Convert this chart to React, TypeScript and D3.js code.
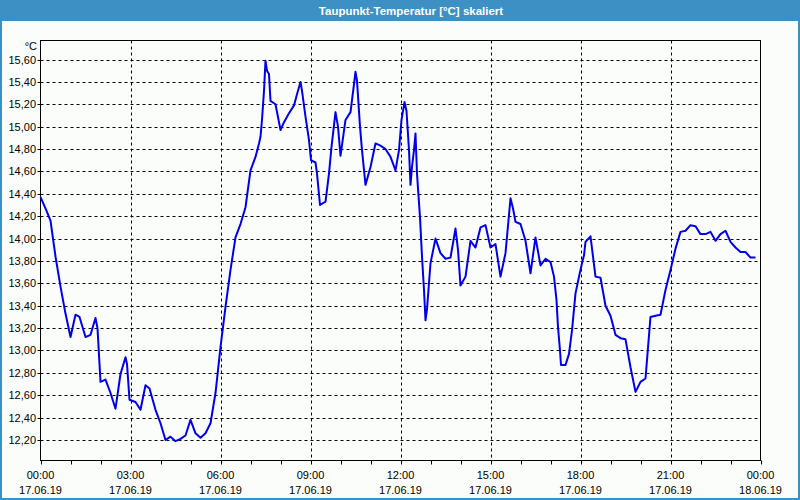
import React from "react";
import * as d3 from "d3";

const TITLE = "Taupunkt-Temperatur [°C] skaliert";
const UNIT = "°C";

// minutes since 17.06.19 00:00
const minutes = [
  0, 10, 20, 30, 40, 50, 60, 70, 78, 90, 100, 110, 114, 120, 130, 140, 150, 160, 170, 173, 178,
  190, 200, 210, 218, 230, 240, 250, 260, 270, 280, 290, 300, 310, 320, 330, 340, 350, 360, 370,
  380, 390, 400, 410, 420, 430, 437, 440, 443, 447, 450, 453, 457, 460, 470, 480, 487, 497, 507,
  513, 520, 523, 530, 537, 541, 550, 553, 559, 570, 577, 582, 590, 595, 600, 610, 620, 627, 630,
  633, 639, 643, 650, 660, 670, 680, 690, 700, 710, 717, 722, 728, 732, 737, 740, 743, 747, 750,
  753, 759, 763, 767, 770, 773, 780, 790, 800, 810, 820, 825, 830, 835, 840, 850, 860, 870, 880,
  890, 900, 910, 920, 930, 940, 945, 950, 960, 970, 980, 990, 1000, 1010, 1020, 1027, 1032, 1035,
  1039, 1041, 1050, 1057, 1063, 1070, 1077, 1083, 1087, 1090, 1100, 1110, 1120, 1130, 1140, 1150,
  1160, 1170, 1180, 1190, 1200, 1210, 1220, 1230, 1240, 1250, 1260, 1270, 1280, 1290, 1300, 1310,
  1320, 1330, 1340, 1350, 1360, 1370, 1380, 1390, 1400, 1410, 1420, 1430,
];
const dewpoint = [
  14.37, 14.27, 14.16, 13.84, 13.57, 13.33, 13.12, 13.32, 13.3, 13.12, 13.14, 13.29, 13.2, 12.72,
  12.74, 12.62, 12.48, 12.79, 12.94, 12.88, 12.56, 12.54, 12.47, 12.69, 12.66, 12.47, 12.35, 12.2,
  12.23, 12.19, 12.21, 12.24, 12.38, 12.26, 12.22, 12.26, 12.35, 12.62, 13.03, 13.39, 13.72, 14.01,
  14.13, 14.28, 14.61, 14.73, 14.85, 14.91, 15.06, 15.32, 15.59, 15.5, 15.47, 15.23, 15.2, 14.97,
  15.04, 15.12, 15.19, 15.29, 15.4, 15.32, 15.09, 14.88, 14.7, 14.68, 14.58, 14.3, 14.33, 14.58,
  14.82, 15.13, 15.0, 14.74, 15.06, 15.13, 15.38, 15.49, 15.41, 15.0, 14.79, 14.48, 14.64, 14.85,
  14.83, 14.8, 14.73, 14.61, 14.79, 15.06, 15.22, 15.14, 14.79, 14.48, 14.64, 14.79, 14.94, 14.58,
  14.19, 13.84, 13.54, 13.27, 13.37, 13.78, 14.0, 13.87, 13.82, 13.83, 13.96, 14.09, 13.9, 13.58,
  13.66, 13.98, 13.92, 14.1, 14.12, 13.92, 13.95, 13.66, 13.87, 14.36, 14.27, 14.15, 14.13, 13.98,
  13.69, 14.01, 13.76, 13.82, 13.79, 13.66, 13.45, 13.21, 13.0, 12.87, 12.87, 12.97, 13.18, 13.51,
  13.66, 13.78, 13.85, 13.97, 14.02, 13.66, 13.65, 13.4, 13.31, 13.14, 13.11, 13.1, 12.85, 12.63,
  12.72, 12.75, 13.3, 13.31, 13.32, 13.54, 13.72, 13.91, 14.06, 14.07, 14.12, 14.11, 14.04, 14.04,
  14.06, 13.98, 14.04, 14.07, 13.97, 13.92, 13.88, 13.88, 13.83, 13.83,
];

const yTicks = [12.2, 12.4, 12.6, 12.8, 13.0, 13.2, 13.4, 13.6, 13.8, 14.0, 14.2, 14.4, 14.6, 14.8, 15.0, 15.2, 15.4, 15.6];
const xMajor = [0, 180, 360, 540, 720, 900, 1080, 1260, 1440];
const xTimeLabels = ["00:00", "03:00", "06:00", "09:00", "12:00", "15:00", "18:00", "21:00", "00:00"];
const xDateLabels = ["17.06.19", "17.06.19", "17.06.19", "17.06.19", "17.06.19", "17.06.19", "17.06.19", "17.06.19", "18.06.19"];
const xMinor = d3.range(0, 1441, 60);

const W = 800;
const H = 500;
const L = 40.5;
const R = 760.5;
const T = 40.5;
const B = 460.5;

export default function App() {
  const x = d3.scaleLinear().domain([0, 1440]).range([L, R]);
  const y = d3.scaleLinear().domain([12.017, 15.77]).range([B, T]);
  const pts = minutes.map((m, i) => [m, dewpoint[i]] as [number, number]);
  const line = d3
    .line<[number, number]>()
    .x((d) => x(d[0]))
    .y((d) => y(d[1]));
  const font = "'Liberation Sans', Arial, sans-serif";
  const fmt = (v: number) => v.toFixed(2).replace(".", ",");

  return (
    <svg
      width={W}
      height={H}
      style={{ position: "absolute", left: 0, top: 0, display: "block" }}
      fontFamily={font}
    >
      <rect x={0} y={0} width={W} height={H} fill="#3c90c4" />
      <rect x={2} y={21} width={W - 4} height={H - 23} fill="#fbfdfb" />
      <text
        x={411}
        y={15}
        textAnchor="middle"
        fill="#ffffff"
        fontSize={11.5}
        fontWeight="bold"
        fontFamily={font}
      >
        {TITLE}
      </text>

      {/* horizontal grid */}
      {yTicks.map((v) => (
        <line
          key={"h" + v}
          x1={L}
          x2={R}
          y1={Math.round(y(v)) + 0.5}
          y2={Math.round(y(v)) + 0.5}
          stroke="#000"
          strokeDasharray="3,3"
          strokeWidth={1}
        />
      ))}
      {/* vertical grid */}
      {xMajor.slice(1, -1).map((m) => (
        <line
          key={"v" + m}
          x1={Math.round(x(m)) + 0.5}
          x2={Math.round(x(m)) + 0.5}
          y1={T}
          y2={B}
          stroke="#000"
          strokeDasharray="3,3"
          strokeWidth={1}
        />
      ))}

      {/* frame */}
      <rect x={L} y={T} width={R - L} height={B - T} fill="none" stroke="#000" strokeWidth={1} />

      {/* y ticks & labels */}
      {yTicks.map((v) => (
        <g key={"yt" + v}>
          <line x1={L - 3} x2={L} y1={Math.round(y(v)) + 0.5} y2={Math.round(y(v)) + 0.5} stroke="#000" />
          <text x={36} y={y(v) + 4} textAnchor="end" fontSize={11} fill="#000">
            {fmt(v)}
          </text>
        </g>
      ))}
      <text x={37} y={50} textAnchor="end" fontSize={11} fill="#000">
        {UNIT}
      </text>

      {/* x ticks */}
      {xMinor.map((m) => (
        <line
          key={"xt" + m}
          x1={Math.round(x(m)) + 0.5}
          x2={Math.round(x(m)) + 0.5}
          y1={B}
          y2={B + 4}
          stroke="#000"
        />
      ))}
      {xMajor.map((m, i) => (
        <g key={"xl" + m}>
          <text x={x(m)} y={479} textAnchor="middle" fontSize={11} fill="#000">
            {xTimeLabels[i]}
          </text>
          <text x={x(m)} y={494} textAnchor="middle" fontSize={11} fill="#000">
            {xDateLabels[i]}
          </text>
        </g>
      ))}

      {/* data line */}
      <path d={line(pts) || ""} fill="none" stroke="#0000e8" strokeWidth={2} strokeLinejoin="round" />
    </svg>
  );
}
